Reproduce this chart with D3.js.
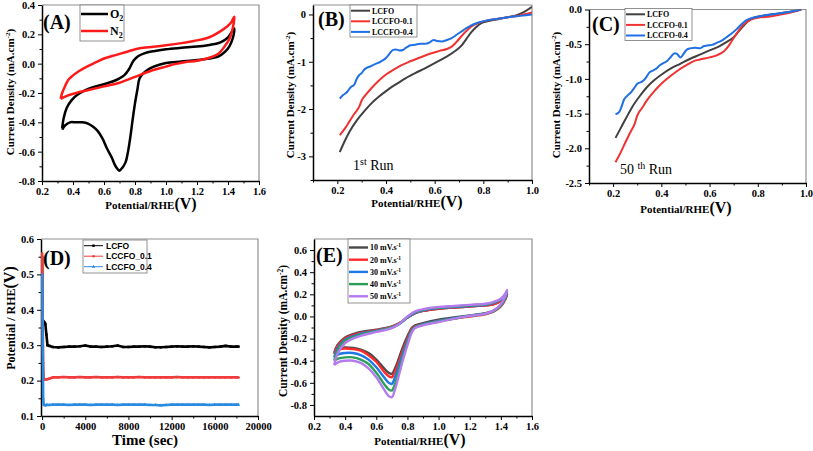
<!DOCTYPE html>
<html><head><meta charset="utf-8">
<script src="https://cdn.jsdelivr.net/npm/d3@7"></script>
<style>body{margin:0;background:#fff}svg{display:block}</style>
</head><body>
<script>
// ---------------- DATA ----------------
// Panel A: CV in O2 / N2  [potential V, current mA/cm2]
const aO2 = [[0.33,-0.44],[0.34,-0.37],[0.36,-0.30],[0.39,-0.25],[0.43,-0.21],[0.48,-0.18],[0.53,-0.16],[0.60,-0.14],[0.66,-0.12],[0.70,-0.10],[0.73,-0.08],[0.76,-0.04],[0.79,0.02],[0.82,0.05],[0.86,0.07],[0.92,0.085],[1.0,0.098],[1.1,0.108],[1.2,0.117],[1.28,0.128],[1.33,0.137],[1.37,0.155],[1.40,0.18],[1.42,0.21],[1.44,0.24],
  [1.44,0.22],[1.43,0.17],[1.41,0.12],[1.38,0.08],[1.34,0.05],[1.28,0.035],[1.2,0.025],[1.1,0.015],[1.0,0.005],[0.95,-0.01],[0.90,-0.03],[0.86,-0.06],[0.83,-0.10],[0.815,-0.18],[0.80,-0.27],[0.785,-0.38],[0.77,-0.50],[0.755,-0.60],[0.74,-0.67],[0.725,-0.70],[0.71,-0.72],[0.70,-0.73],[0.685,-0.715],[0.67,-0.69],[0.65,-0.64],[0.62,-0.58],[0.59,-0.51],[0.56,-0.46],[0.53,-0.43],[0.50,-0.41],[0.46,-0.40],[0.42,-0.40],[0.38,-0.40],[0.35,-0.42],[0.33,-0.45]];
const aN2 = [[0.32,-0.24],[0.33,-0.20],[0.35,-0.15],[0.37,-0.11],[0.40,-0.08],[0.44,-0.05],[0.49,-0.02],[0.55,0.01],[0.60,0.035],[0.68,0.06],[0.76,0.085],[0.83,0.105],[0.92,0.115],[1.0,0.125],[1.1,0.14],[1.18,0.155],[1.25,0.17],[1.30,0.19],[1.35,0.22],[1.39,0.25],[1.42,0.28],[1.44,0.32],
  [1.44,0.30],[1.43,0.24],[1.41,0.17],[1.38,0.12],[1.34,0.07],[1.28,0.04],[1.2,0.02],[1.12,0.01],[1.05,-0.005],[1.0,-0.02],[0.9,-0.05],[0.8,-0.09],[0.7,-0.13],[0.6,-0.155],[0.5,-0.18],[0.42,-0.20],[0.36,-0.22],[0.32,-0.24]];
const aSeries = ["O2","N2"];

// Panel B: LSV 1st run
const bLCFO = [[0.21,-2.91],[0.23,-2.68],[0.25,-2.48],[0.28,-2.24],[0.31,-2.05],[0.34,-1.88],[0.37,-1.74],[0.40,-1.62],[0.44,-1.48],[0.48,-1.35],[0.52,-1.24],[0.56,-1.14],[0.60,-1.03],[0.64,-0.92],[0.68,-0.79],[0.71,-0.66],[0.73,-0.52],[0.75,-0.38],[0.77,-0.27],[0.79,-0.19],[0.82,-0.14],[0.86,-0.10],[0.90,-0.06],[0.94,-0.01],[0.97,0.06],[1.0,0.16]];
const bL01 = [[0.21,-2.55],[0.23,-2.42],[0.25,-2.26],[0.27,-2.10],[0.29,-1.95],[0.30,-1.82],[0.32,-1.68],[0.34,-1.56],[0.37,-1.40],[0.40,-1.27],[0.43,-1.17],[0.46,-1.08],[0.50,-0.99],[0.54,-0.91],[0.58,-0.83],[0.62,-0.77],[0.65,-0.73],[0.67,-0.68],[0.69,-0.58],[0.71,-0.46],[0.73,-0.35],[0.75,-0.26],[0.78,-0.18],[0.82,-0.12],[0.86,-0.09],[0.90,-0.06],[0.95,-0.02],[1.0,0.04]];
const bL04 = [[0.21,-1.78],[0.225,-1.70],[0.24,-1.64],[0.25,-1.57],[0.26,-1.52],[0.27,-1.48],[0.28,-1.36],[0.29,-1.28],[0.30,-1.24],[0.31,-1.17],[0.32,-1.13],[0.335,-1.10],[0.35,-1.06],[0.365,-1.03],[0.38,-0.99],[0.39,-0.96],[0.40,-0.92],[0.41,-0.86],[0.42,-0.79],[0.43,-0.75],[0.44,-0.74],[0.455,-0.76],[0.47,-0.75],[0.48,-0.71],[0.49,-0.68],[0.50,-0.65],[0.52,-0.64],[0.54,-0.62],[0.56,-0.62],[0.58,-0.59],[0.595,-0.54],[0.61,-0.56],[0.63,-0.57],[0.65,-0.54],[0.67,-0.50],[0.69,-0.43],[0.71,-0.36],[0.73,-0.29],[0.75,-0.23],[0.78,-0.17],[0.82,-0.12],[0.86,-0.09],[0.90,-0.06],[0.95,-0.03],[1.0,0.0]];

// Panel C: LSV 50th run
const cLCFO = [[0.21,-1.85],[0.23,-1.72],[0.25,-1.59],[0.28,-1.40],[0.31,-1.25],[0.34,-1.12],[0.37,-1.02],[0.40,-0.94],[0.44,-0.85],[0.48,-0.78],[0.52,-0.71],[0.56,-0.65],[0.60,-0.59],[0.64,-0.53],[0.67,-0.47],[0.70,-0.40],[0.72,-0.32],[0.74,-0.24],[0.76,-0.17],[0.78,-0.12],[0.82,-0.09],[0.86,-0.07],[0.90,-0.05],[0.94,-0.03],[0.98,0.0]];
const cL01 = [[0.21,-2.20],[0.23,-2.07],[0.25,-1.92],[0.27,-1.78],[0.29,-1.64],[0.30,-1.53],[0.32,-1.42],[0.34,-1.31],[0.37,-1.18],[0.40,-1.07],[0.43,-0.98],[0.46,-0.90],[0.50,-0.81],[0.53,-0.75],[0.56,-0.72],[0.60,-0.69],[0.63,-0.66],[0.66,-0.60],[0.68,-0.52],[0.70,-0.41],[0.72,-0.31],[0.74,-0.22],[0.77,-0.15],[0.80,-0.12],[0.85,-0.10],[0.90,-0.07],[0.94,-0.04],[0.98,0.0]];
const cL04 = [[0.21,-1.51],[0.225,-1.48],[0.235,-1.40],[0.245,-1.30],[0.26,-1.24],[0.275,-1.19],[0.29,-1.12],[0.30,-1.07],[0.32,-1.04],[0.335,-0.99],[0.35,-0.91],[0.365,-0.88],[0.38,-0.85],[0.395,-0.80],[0.41,-0.77],[0.425,-0.74],[0.44,-0.68],[0.455,-0.63],[0.465,-0.64],[0.48,-0.69],[0.49,-0.65],[0.505,-0.58],[0.52,-0.56],[0.54,-0.55],[0.56,-0.56],[0.575,-0.53],[0.59,-0.52],[0.61,-0.51],[0.63,-0.48],[0.65,-0.45],[0.67,-0.40],[0.69,-0.35],[0.71,-0.29],[0.73,-0.22],[0.75,-0.16],[0.78,-0.12],[0.82,-0.09],[0.86,-0.07],[0.90,-0.05],[0.94,-0.03],[0.98,0.0]];
const lsvNames = ["LCFO","LCCFO-0.1","LCCFO-0.4"];

// Panel D: chronopotentiometry
const dTime = [0,30,60,100,150,200,300,400,500,700,1000,1500,2000,2500,3000,3500,4000,4500,5000,5500,6000,6500,7000,7500,8000,8500,9000,9500,10000,10500,11000,11500,12000,12500,13000,13500,14000,14500,15000,15500,16000,16500,17000,17500,18000,18200];
const dLCFO = [0.55,0.45,0.37,0.36,0.36,0.365,0.36,0.33,0.30,0.298,0.295,0.294,0.295,0.296,0.296,0.297,0.299,0.296,0.296,0.295,0.296,0.297,0.299,0.295,0.295,0.296,0.296,0.297,0.296,0.294,0.294,0.295,0.296,0.297,0.296,0.296,0.297,0.296,0.295,0.294,0.295,0.296,0.298,0.296,0.296,0.296];
const dL01 = [0.56,0.50,0.37,0.25,0.205,0.203,0.203,0.204,0.204,0.206,0.209,0.209,0.210,0.209,0.209,0.210,0.209,0.209,0.210,0.209,0.209,0.209,0.210,0.209,0.209,0.209,0.210,0.209,0.209,0.209,0.209,0.209,0.209,0.210,0.209,0.209,0.209,0.209,0.209,0.209,0.209,0.209,0.209,0.209,0.209,0.209];
const dL04 = [0.50,0.45,0.30,0.15,0.133,0.131,0.130,0.131,0.131,0.131,0.132,0.132,0.132,0.131,0.132,0.132,0.132,0.131,0.132,0.132,0.132,0.132,0.131,0.132,0.132,0.132,0.132,0.132,0.131,0.131,0.130,0.131,0.132,0.132,0.132,0.132,0.132,0.132,0.132,0.131,0.132,0.132,0.132,0.132,0.132,0.132];
const dNames = ["LCFO","LCCFO_0.1","LCCFO_0.4"];

// Panel E: CV at scan rates
const eE = [0.33,0.35,0.40,0.45,0.50,0.60,0.70,0.75,0.80,0.85,0.90,1.00,1.10,1.20,1.30,1.35,1.40,1.43,1.44,1.43,1.40,1.35,1.30,1.20,1.10,1.00,0.90,0.85,0.83,0.80,0.77,0.74,0.72,0.70,0.68,0.65,0.60,0.55,0.50,0.45,0.40,0.36,0.33];
const e10 = [-0.33,-0.26,-0.19,-0.16,-0.14,-0.12,-0.09,-0.06,-0.01,0.03,0.05,0.07,0.08,0.09,0.10,0.11,0.14,0.18,0.20,0.16,0.10,0.05,0.03,0.01,-0.01,-0.03,-0.06,-0.08,-0.10,-0.18,-0.28,-0.40,-0.47,-0.52,-0.51,-0.47,-0.39,-0.33,-0.30,-0.285,-0.28,-0.29,-0.33];
const e20 = [-0.34,-0.27,-0.20,-0.17,-0.15,-0.125,-0.095,-0.06,-0.01,0.03,0.05,0.07,0.08,0.09,0.10,0.11,0.14,0.18,0.21,0.16,0.09,0.04,0.02,0.00,-0.02,-0.04,-0.07,-0.09,-0.11,-0.20,-0.31,-0.43,-0.50,-0.55,-0.54,-0.50,-0.41,-0.35,-0.31,-0.295,-0.29,-0.30,-0.34];
const e30 = [-0.37,-0.29,-0.21,-0.18,-0.155,-0.13,-0.10,-0.065,-0.01,0.035,0.055,0.075,0.085,0.095,0.105,0.12,0.15,0.19,0.22,0.17,0.10,0.045,0.025,0.005,-0.015,-0.04,-0.07,-0.095,-0.12,-0.22,-0.34,-0.47,-0.55,-0.61,-0.60,-0.55,-0.46,-0.39,-0.35,-0.33,-0.33,-0.34,-0.37];
const e40 = [-0.40,-0.31,-0.22,-0.19,-0.165,-0.135,-0.10,-0.065,-0.005,0.04,0.06,0.08,0.09,0.10,0.11,0.125,0.155,0.20,0.23,0.18,0.10,0.045,0.025,0.005,-0.02,-0.045,-0.075,-0.10,-0.13,-0.24,-0.37,-0.52,-0.61,-0.67,-0.66,-0.61,-0.51,-0.43,-0.39,-0.37,-0.37,-0.38,-0.40];
const e50 = [-0.44,-0.34,-0.24,-0.20,-0.175,-0.14,-0.105,-0.065,0.0,0.045,0.065,0.085,0.095,0.105,0.115,0.13,0.16,0.21,0.24,0.19,0.11,0.05,0.025,0.005,-0.02,-0.05,-0.08,-0.105,-0.14,-0.26,-0.40,-0.56,-0.66,-0.73,-0.72,-0.66,-0.55,-0.47,-0.42,-0.40,-0.40,-0.41,-0.44];
const eRates = ["10","20","30","40","50"];

// Ticks
const cvXTicks = [0.2,0.4,0.6,0.8,1.0,1.2,1.4,1.6];
const cvXMinor = [0.3,0.5,0.7,0.9,1.1,1.3,1.5];
const aYTicks = [-0.8,-0.6,-0.4,-0.2,0.0,0.2,0.4];
const aYMinor = [-0.7,-0.5,-0.3,-0.1,0.1,0.3];
const lsvXTicks = [0.2,0.4,0.6,0.8,1.0];
const lsvXMinor = [0.1,0.3,0.5,0.7,0.9];
const bYTicks = [-3,-2,-1,0];
const bYMinor = [-3.5,-2.5,-1.5,-0.5];
const cYTicks = [-2.5,-2.0,-1.5,-1.0,-0.5,0.0];
const cYMinor = [-2.25,-1.75,-1.25,-0.75,-0.25];
const dXTicks = [0,4000,8000,12000,16000,20000];
const dXMinor = [2000,6000,10000,14000,18000];
const dYTicks = [0.1,0.2,0.3,0.4,0.5,0.6];
const dYMinor = [0.15,0.25,0.35,0.45,0.55];
const eYTicks = [-0.8,-0.6,-0.4,-0.2,0.0,0.2,0.4,0.6];
const eYMinor = [-0.7,-0.5,-0.3,-0.1,0.1,0.3,0.5];

// ---------------- DRAWING ----------------
const SERIF = '"Liberation Serif","Times New Roman",serif';
const SANS = '"Liberation Sans",Arial,sans-serif';
const svg = d3.select('body').append('svg').attr('width',813).attr('height',451)
  .style('font-family',SERIF);

function styleAxis(s){
  s.selectAll('text').attr('font-size',10.5).attr('font-weight','bold').attr('fill','#000').attr('font-family',SERIF);
  s.selectAll('line').attr('stroke','#000').attr('stroke-width',1);
  s.select('.domain').attr('stroke','#000').attr('stroke-width',1.5);
}
function panel(o){
  const x = d3.scaleLinear().domain(o.xd).range([o.l,o.r]);
  const y = d3.scaleLinear().domain(o.yd).range([o.b,o.t]);
  const g = svg.append('g');
  const id = 'clip'+o.name;
  svg.append('clipPath').attr('id',id).append('rect')
    .attr('x',o.l).attr('y',o.t).attr('width',o.r-o.l).attr('height',o.b-o.t);
  g.append('path').attr('d',`M${o.l},${o.t}H${o.r}V${o.b}`).attr('fill','none')
    .attr('stroke','#909090').attr('stroke-width',1.2);
  g.append('g').attr('transform',`translate(0,${o.b})`)
    .call(d3.axisBottom(x).tickValues(o.xm).tickSize(2.5).tickFormat(''))
    .call(s=>{s.select('.domain').remove();s.selectAll('line').attr('stroke','#000');});
  g.append('g').attr('transform',`translate(${o.l},0)`)
    .call(d3.axisLeft(y).tickValues(o.ym).tickSize(2.5).tickFormat(''))
    .call(s=>{s.select('.domain').remove();s.selectAll('line').attr('stroke','#000');});
  g.append('g').attr('transform',`translate(0,${o.b})`)
    .call(d3.axisBottom(x).tickValues(o.xt).tickSize(4).tickSizeOuter(0).tickPadding(3).tickFormat(o.xf))
    .call(styleAxis);
  g.append('g').attr('transform',`translate(${o.l},0)`)
    .call(d3.axisLeft(y).tickValues(o.yt).tickSize(4).tickSizeOuter(0).tickPadding(3).tickFormat(o.yf))
    .call(styleAxis);
  const plot = svg.append('g').attr('clip-path',`url(#${id})`);
  return {x,y,g,plot};
}
function richText(parent, x, y, parts, opts={}){
  const t = parent.append('text').attr('x',x).attr('y',y)
    .attr('text-anchor',opts.anchor||'start').attr('font-weight',opts.weight||'bold')
    .attr('font-family',opts.family||SERIF).attr('fill','#000');
  if(opts.rotate) t.attr('transform',`rotate(-90,${x},${y})`);
  parts.forEach(p=>{ const ts=t.append('tspan').attr('font-size',p.s).text(p.t); if(p.dy) ts.attr('dy',p.dy); });
  return t;
}
const f1 = d=>d.toFixed(1), f0 = d=>d.toFixed(0);
const cdParts = s=>[{t:'Current Density (mA.cm',s:s},{t:'-2',s:s*0.65,dy:-4},{t:')',s:s,dy:4}];
const potParts = [{t:'Potential/RHE',s:11},{t:'(V)',s:16}];
function legend(g, box, items, font, lw){
  g.append('rect').attr('x',box[0]).attr('y',box[1]).attr('width',box[2]).attr('height',box[3])
    .attr('fill','#fff').attr('stroke','#777').attr('stroke-width',0.8);
  items.forEach(it=>{
    g.append('line').attr('x1',it.x1).attr('x2',it.x2).attr('y1',it.y).attr('y2',it.y)
      .attr('stroke',it.c).attr('stroke-width',lw);
    if(it.marker) g.append('path').attr('d',it.marker).attr('transform',`translate(${(it.x1+it.x2)/2},${it.y})`).attr('fill',it.c);
    const parts = it.parts || [{t:it.t,s:font.s}];
    richText(g, it.tx, it.y+font.s*0.35, parts, {family:font.f});
  });
}

// ---- Panel A ----
{
  const p = panel({name:'A',l:42,r:259,t:5,b:181,xd:[0.2,1.6],yd:[-0.8,0.4],xt:cvXTicks,xm:cvXMinor,yt:aYTicks,ym:aYMinor,xf:f1,yf:f1});
  const line = d3.line().x(d=>p.x(d[0])).y(d=>p.y(d[1])).curve(d3.curveCatmullRom.alpha(0.5));
  p.plot.append('path').datum(aO2).attr('d',line).attr('fill','none').attr('stroke','#000').attr('stroke-width',2.5);
  p.plot.append('path').datum(aN2).attr('d',line).attr('fill','none').attr('stroke','#ff1a1a').attr('stroke-width',2.5);
  richText(svg,43,29,[{t:'(A)',s:20}]);
  legend(svg,[80,5,44,36],[
    {x1:81,x2:108,y:14,c:'#000',tx:110,parts:[{t:'O',s:12},{t:aSeries[0].slice(1),s:8,dy:3}]},
    {x1:81,x2:108,y:31,c:'#ff1a1a',tx:110,parts:[{t:'N',s:12},{t:aSeries[1].slice(1),s:8,dy:3}]}
  ],{s:12,f:SERIF},2.5);
  richText(svg,151,209,potParts,{anchor:'middle'});
  richText(svg,14,92,cdParts(11),{anchor:'middle',rotate:true});
}
// ---- Panel B ----
const lsvColors = ['#404040','#f03232','#1f6fe5'];
{
  const p = panel({name:'B',l:313,r:532,t:5,b:180,xd:[0.1,1.0],yd:[-3.5,0.2],xt:lsvXTicks,xm:lsvXMinor,yt:bYTicks,ym:bYMinor,xf:f1,yf:f0});
  const line = d3.line().x(d=>p.x(d[0])).y(d=>p.y(d[1])).curve(d3.curveMonotoneX);
  [bLCFO,bL01,bL04].forEach((s,i)=>p.plot.append('path').datum(s).attr('d',line).attr('fill','none').attr('stroke',lsvColors[i]).attr('stroke-width',2));
  richText(svg,318,26,[{t:'(B)',s:20}]);
  legend(svg,[350,5,67,32],lsvNames.map((n,i)=>({x1:351,x2:370,y:10.7+i*10.6,c:lsvColors[i],tx:372,t:n})),{s:8,f:SERIF},2);
  richText(svg,353,170,[{t:'1',s:14},{t:'st',s:10,dy:-5},{t:' Run',s:14,dy:5}],{weight:'normal'});
  richText(svg,417,207,potParts,{anchor:'middle'});
  richText(svg,294,95,cdParts(11),{anchor:'middle',rotate:true});
}
// ---- Panel C ----
{
  const p = panel({name:'C',l:589,r:806,t:9.5,b:183,xd:[0.1,1.0],yd:[-2.5,0],xt:lsvXTicks,xm:lsvXMinor,yt:cYTicks,ym:cYMinor,xf:f1,yf:f1});
  const line = d3.line().x(d=>p.x(d[0])).y(d=>p.y(d[1])).curve(d3.curveMonotoneX);
  [cLCFO,cL01,cL04].forEach((s,i)=>p.plot.append('path').datum(s).attr('d',line).attr('fill','none').attr('stroke',lsvColors[i]).attr('stroke-width',2));
  richText(svg,592,31,[{t:'(C)',s:20}]);
  legend(svg,[625,8.5,67,32],lsvNames.map((n,i)=>({x1:626,x2:645,y:14.3+i*10.6,c:lsvColors[i],tx:647,t:n})),{s:8,f:SERIF},2);
  richText(svg,620,174,[{t:'50 ',s:14},{t:'th',s:10,dy:-5},{t:' Run',s:14,dy:5}],{weight:'normal'});
  richText(svg,686,213,potParts,{anchor:'middle'});
  richText(svg,560,95,cdParts(11),{anchor:'middle',rotate:true});
}
// ---- Panel D ----
{
  const p = panel({name:'D',l:41,r:258,t:239,b:416,xd:[-100,20000],yd:[0.1,0.6],xt:dXTicks,xm:dXMinor,yt:dYTicks,ym:dYMinor,xf:f0,yf:f1});
  const cols = ['#000','#f03c3c','#2a8ae0'];
  const syms = [d3.symbol().type(d3.symbolSquare).size(6)(), d3.symbol().type(d3.symbolCircle).size(5)(), d3.symbol().type(d3.symbolTriangle).size(5)()];
  [dLCFO,dL01,dL04].forEach((s,i)=>{
    const pts = dTime.map((t,j)=>[t,s[j]]);
    const line = d3.line().x(d=>p.x(d[0])).y(d=>p.y(d[1]));
    p.plot.append('path').datum(pts).attr('d',line).attr('fill','none').attr('stroke',cols[i]).attr('stroke-width',2.6);
    p.plot.selectAll(null).data(pts).join('path').attr('d',syms[i])
      .attr('transform',d=>`translate(${p.x(d[0])},${p.y(d[1])})`).attr('fill',cols[i]);
  });
  richText(svg,43,265,[{t:'(D)',s:20}]);
  legend(svg,[83,240,64,33],dNames.map((n,i)=>({x1:84,x2:103,y:245.7+i*10.5,c:cols[i],tx:106,t:n,marker:syms[i]})),{s:8.5,f:SANS},1);
  richText(svg,145,445,[{t:'Time (sec)',s:15}],{anchor:'middle'});
  richText(svg,15,318,[{t:'Potential / RHE',s:12},{t:'(V)',s:16}],{anchor:'middle',rotate:true});
}
// ---- Panel E ----
{
  const p = panel({name:'E',l:314,r:532,t:239,b:416,xd:[0.2,1.6],yd:[-0.9,0.7],xt:cvXTicks,xm:cvXMinor,yt:eYTicks,ym:eYMinor,xf:f1,yf:f1});
  const cols = ['#4a4a4a','#ff2a2a','#1e78e6','#2ca05a','#b57bee'];
  const line = d3.line().x(d=>p.x(d[0])).y(d=>p.y(d[1])).curve(d3.curveCatmullRom.alpha(0.5));
  [e10,e20,e30,e40,e50].forEach((s,i)=>{
    const pts = eE.map((v,j)=>[v,s[j]]);
    p.plot.append('path').datum(pts).attr('d',line).attr('fill','none').attr('stroke',cols[i]).attr('stroke-width',2.4);
  });
  richText(svg,316,262,[{t:'(E)',s:20}]);
  legend(svg,[348,239,62,64],eRates.map((r,i)=>({x1:349,x2:368,y:247.5+i*12.2,c:cols[i],tx:370,
    parts:[{t:r+' mV.s',s:8},{t:'-1',s:5.5,dy:-3}]})),{s:8,f:SERIF},2.4);
  richText(svg,420,445,potParts,{anchor:'middle'});
  richText(svg,287,331,cdParts(11.5),{anchor:'middle',rotate:true});
}
</script>
</body></html>
